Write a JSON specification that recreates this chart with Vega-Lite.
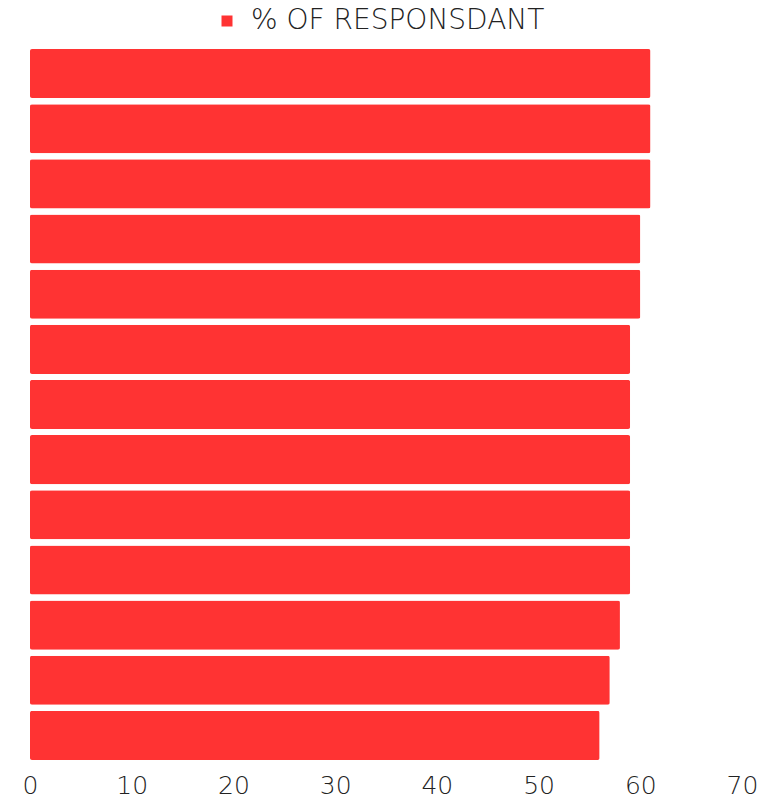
{
  "$schema": "https://vega.github.io/schema/vega-lite/v6.json",
  "autosize": {"type": "none"},
  "width": 712,
  "height": 717,
  "padding": {"left": 30, "top": 46, "right": 38, "bottom": 35},
  "background": "white",
  "config": {"view": {"stroke": null}, "font": "DejaVu Sans"},
  "data": {"values": [
    {"item": "1", "pct": 61},
    {"item": "2", "pct": 61},
    {"item": "3", "pct": 61},
    {"item": "4", "pct": 60},
    {"item": "5", "pct": 60},
    {"item": "6", "pct": 59},
    {"item": "7", "pct": 59},
    {"item": "8", "pct": 59},
    {"item": "9", "pct": 59},
    {"item": "10", "pct": 59},
    {"item": "11", "pct": 58},
    {"item": "12", "pct": 57},
    {"item": "13", "pct": 56}
  ]},
  "mark": {"type": "bar", "cornerRadius": 2},
  "encoding": {
    "y": {"field": "item", "type": "nominal", "sort": null, "axis": null,
          "scale": {"paddingInner": 0.11, "paddingOuter": 0.055}},
    "x": {"field": "pct", "type": "quantitative",
          "scale": {"domain": [0, 70], "nice": false},
          "axis": {"title": null, "values": [0,10,20,30,40,50,60,70], "grid": false, "domain": false, "ticks": false, "labelFlush": false,
                   "labelFontSize": 25, "labelColor": "#222222", "labelPadding": 10, "labelFont": "DejaVu Sans", "labelFontWeight": 200}},
    "color": {"datum": "% OF RESPONSDANT", "type": "nominal",
              "scale": {"range": ["#ff3333"]},
              "legend": {"title": null, "orient": "none", "legendX": 183, "legendY": -39, "direction": "horizontal", "padding": 0,
                         "labelFontSize": 28, "labelColor": "#222222", "labelLimit": 0, "labelOffset": 10, "symbolType": "square", "symbolSize": 121,
                         "labelFont": "DejaVu Sans", "labelFontWeight": 300}}
  }
}
